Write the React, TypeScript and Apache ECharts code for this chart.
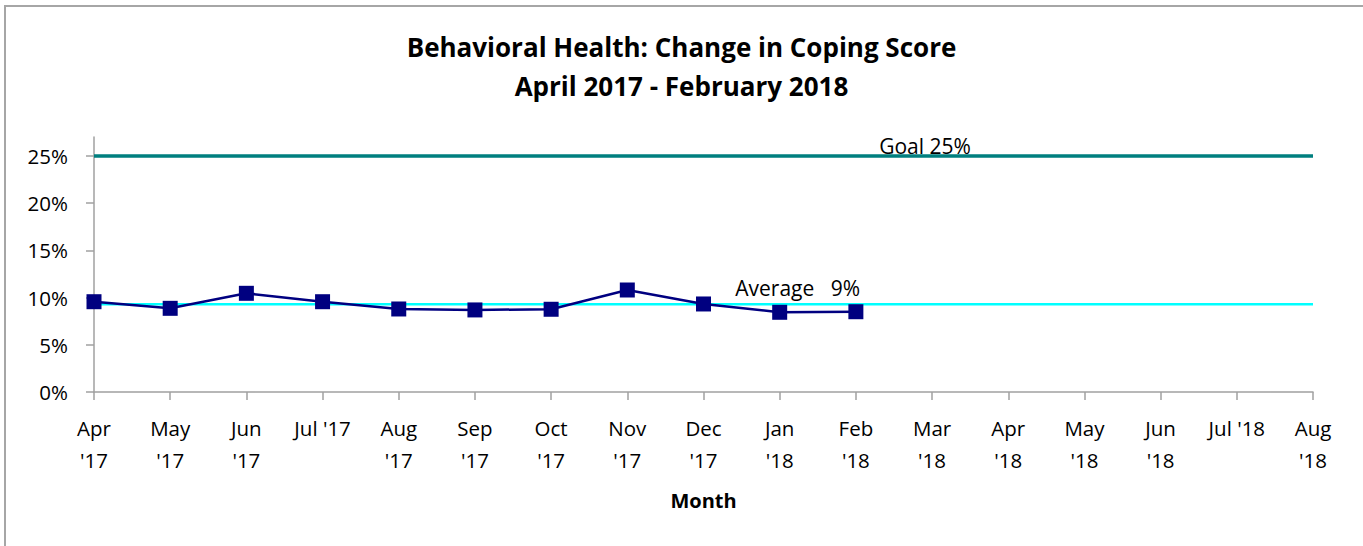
import React, { useEffect, useRef } from "react";
import * as echarts from "echarts";

const months = [
  "Apr\n'17", "May\n'17", "Jun\n'17", "Jul '17", "Aug\n'17", "Sep\n'17", "Oct\n'17", "Nov\n'17",
  "Dec\n'17", "Jan\n'18", "Feb\n'18", "Mar\n'18", "Apr\n'18", "May\n'18", "Jun\n'18", "Jul '18", "Aug\n'18",
];
const copingScore = [0.0956, 0.0886, 0.1045, 0.0956, 0.0879, 0.0869, 0.0876, 0.108, 0.0932, 0.0844, 0.085];
const averageValue = 0.093;
const goalValue = 0.25;
const yTicks = [0, 0.05, 0.1, 0.15, 0.2, 0.25];

const FONT = "'Open Sans', Lato, sans-serif";

export default function App() {
  const ref = useRef<HTMLDivElement>(null);
  useEffect(() => {
    if (!ref.current) return;
    const chart = echarts.init(ref.current, null, { renderer: "svg" });
    const goalData = months.map(() => goalValue);
    const avgData = months.map(() => averageValue);
    chart.setOption({
      animation: false,
      backgroundColor: "#ffffff",
      textStyle: { fontFamily: FONT },
      title: {
        text: "Behavioral Health: Change in Coping Score\nApril 2017 - February 2018",
        left: "center",
        top: 22,
        textStyle: { fontFamily: FONT, fontSize: 26, fontWeight: "bold", color: "#000", lineHeight: 39 },
      },
      graphic: [
        {
          type: "rect",
          shape: { x: 5, y: 6, width: 1400, height: 600 },
          style: { fill: "none", stroke: "#a6a6a6", lineWidth: 2 },
          silent: true,
        },
      ],
      grid: { left: 94, right: 50, top: 137, bottom: 154, containLabel: false },
      xAxis: {
        type: "category",
        data: months,
        boundaryGap: false,
        name: "Month",
        nameLocation: "middle",
        nameGap: 98,
        nameTextStyle: { fontFamily: FONT, fontSize: 20, fontWeight: "bold", color: "#000" },
        axisLine: { lineStyle: { color: "#a0a0a0", width: 1.5 } },
        axisTick: { show: true, alignWithLabel: true, length: 8, lineStyle: { color: "#a0a0a0", width: 1.5 } },
        axisLabel: {
          interval: 0,
          margin: 20,
          fontFamily: FONT,
          fontSize: 20.5,
          color: "#000",
          lineHeight: 32,
          verticalAlign: "top",
        },
        splitLine: { show: false },
      },
      yAxis: {
        type: "value",
        min: 0,
        max: 0.27,
        interval: 0.05,
        axisLine: { show: true, lineStyle: { color: "#a0a0a0", width: 1.5 } },
        axisTick: { show: true, length: 8, lineStyle: { color: "#a0a0a0", width: 1.5 }, customValues: yTicks },
        axisLabel: {
          customValues: yTicks,
          margin: 26,
          fontFamily: FONT,
          fontSize: 20.5,
          color: "#000",
          formatter: (v: number) => Math.round(v * 100) + "%",
        },
        splitLine: { show: false },
      },
      series: [
        {
          name: "Goal",
          type: "line",
          data: goalData,
          symbol: "none",
          lineStyle: { color: "#007f7f", width: 3.5 },
          z: 2,
          markPoint: {
            symbol: "circle",
            symbolSize: 0,
            data: [{ coord: [months[11], goalValue] }],
            label: {
              show: true,
              formatter: "Goal 25%",
              position: "top",
              offset: [-7, 6],
              fontFamily: FONT,
              fontSize: 21,
              color: "#000",
            },
          },
        },
        {
          name: "Average",
          type: "line",
          data: avgData,
          symbol: "none",
          lineStyle: { color: "#00ffff", width: 2.5 },
          z: 3,
          markPoint: {
            symbol: "circle",
            symbolSize: 0,
            data: [{ coord: [months[9], averageValue] }],
            label: {
              show: true,
              formatter: "Average   9%",
              position: "top",
              offset: [18, -1],
              fontFamily: FONT,
              fontSize: 21,
              color: "#000",
            },
          },
        },
        {
          name: "Coping Score",
          type: "line",
          data: copingScore,
          symbol: "rect",
          symbolSize: 15,
          itemStyle: { color: "#000080" },
          lineStyle: { color: "#000080", width: 2.5 },
          z: 4,
        },
      ],
    });
    return () => chart.dispose();
  }, []);
  return (
    <div
      ref={ref}
      style={{ position: "fixed", left: 0, top: 0, width: 1363, height: 546 }}
    />
  );
}
